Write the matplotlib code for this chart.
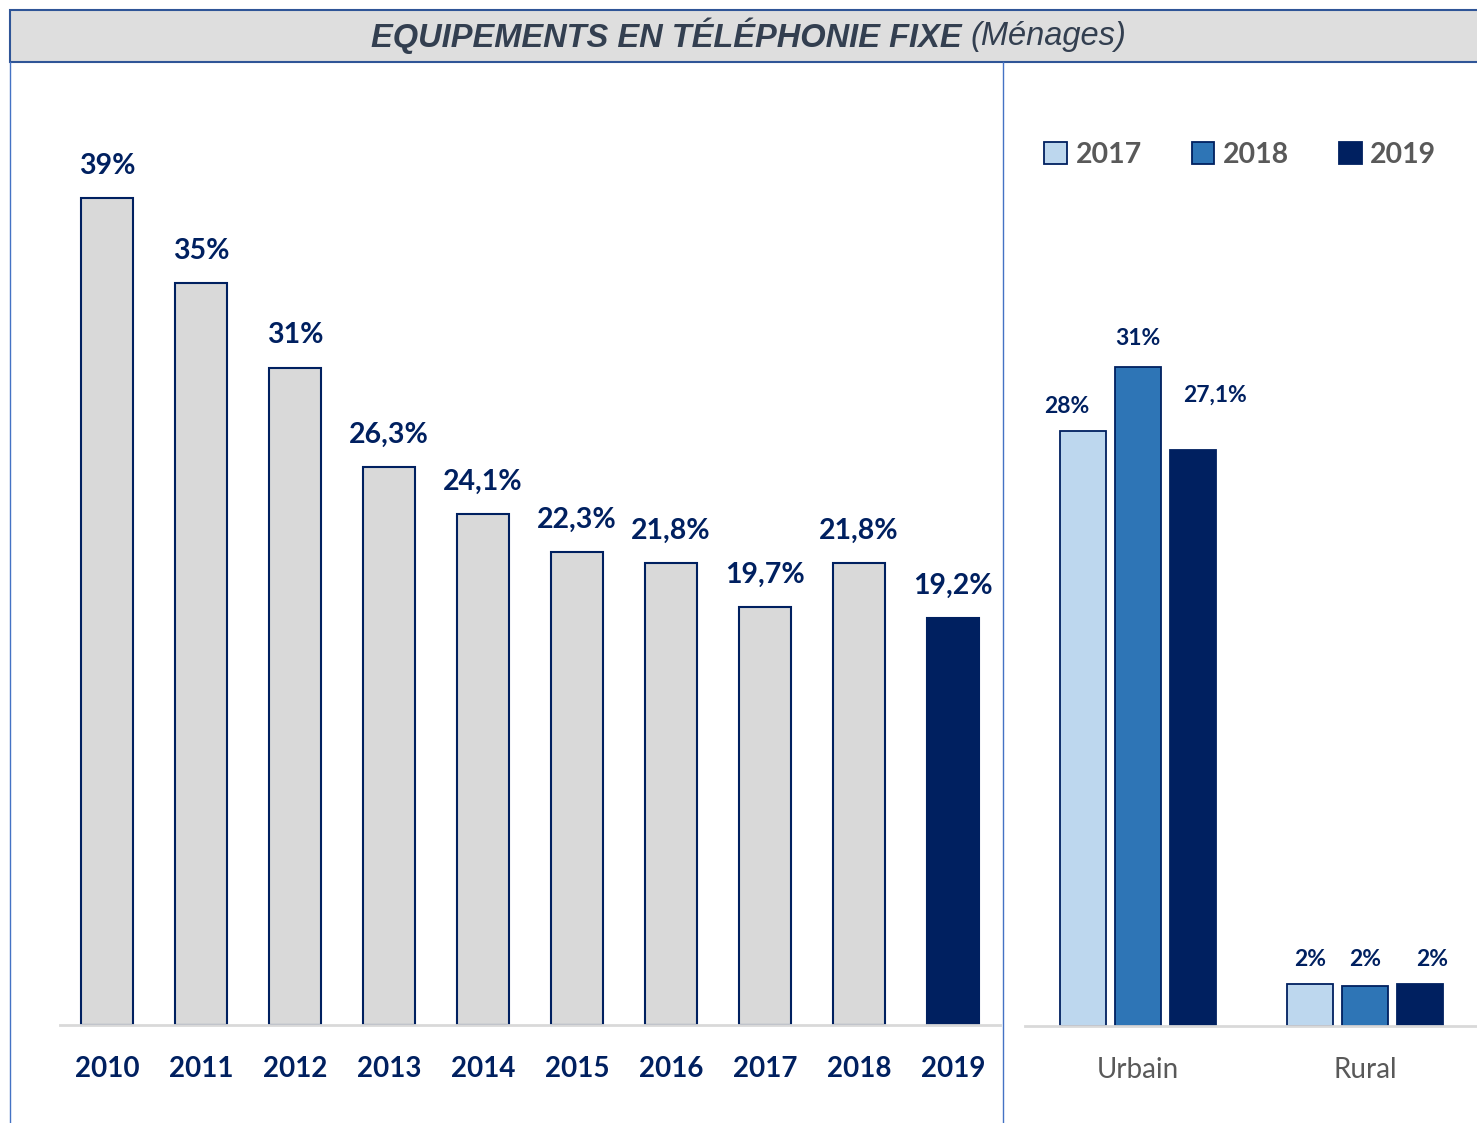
import matplotlib
matplotlib.use('Agg')
import matplotlib.pyplot as plt
from matplotlib.patches import Rectangle
from matplotlib.lines import Line2D

# data
years = ['2010', '2011', '2012', '2013', '2014', '2015', '2016', '2017', '2018', '2019']
taux = [39, 35, 31, 26.3, 24.1, 22.3, 21.8, 19.7, 21.8, 19.2]
taux_labels = ['39%', '35%', '31%', '26,3%', '24,1%', '22,3%', '21,8%', '19,7%', '21,8%', '19,2%']

zones = ['Urbain', 'Rural']
series_years = ['2017', '2018', '2019']
zone_vals = {'2017': [28, 2.0], '2018': [31, 1.9], '2019': [27.1, 2.0]}
zone_labels = {'2017': ['28%', '2%'], '2018': ['31%', '2%'], '2019': ['27,1%', '2%']}

NAVY = '#002060'
GRAY_TXT = '#595959'
FRAME = '#2f5597'
series_colors = {'2017': '#bdd7ee', '2018': '#2e75b6', '2019': '#002060'}

plt.rcParams['font.family'] = ['Lato', 'DejaVu Sans']

W, H = 1477, 1123
fig = plt.figure(figsize=(W / 100, H / 100), dpi=100)


def fx(px):
    return px / W


def fy(py):
    return 1 - py / H


# title bar
fig.add_artist(Rectangle((fx(10), fy(62)), fx(1480) - fx(10), fy(10) - fy(62),
                         transform=fig.transFigure, facecolor='#dedede',
                         edgecolor=FRAME, lw=1.5))
title_font = ['Liberation Sans Narrow', 'Liberation Sans', 'DejaVu Sans']
fig.text(fx(962), fy(36), 'EQUIPEMENTS EN TÉLÉPHONIE FIXE', ha='right', va='center',
         fontsize=23.5, fontweight='bold', style='italic', color='#333f50', family=title_font)
fig.text(fx(970), fy(36), '(Ménages)', ha='left', va='center',
         fontsize=23.5, style='italic', color='#333f50', family=title_font)

# panel separators
fig.add_artist(Line2D([fx(10), fx(10)], [fy(62), fy(1123)], transform=fig.transFigure,
                      color='#4472c4', lw=1))
fig.add_artist(Line2D([fx(1003), fx(1003)], [fy(62), fy(1123)], transform=fig.transFigure,
                      color='#4472c4', lw=1))

# left chart: yearly evolution
base = 1025
top = base - 45 * 21.2
ax = fig.add_axes([fx(60), fy(base), fx(1000) - fx(60), fy(top) - fy(base)])
x = list(range(len(years)))
face = ['#d9d9d9'] * (len(years) - 1) + [NAVY]
ax.bar(x, taux, width=0.553, color=face, edgecolor=NAVY, lw=1.5, zorder=2)
for xi, v, lab in zip(x, taux, taux_labels):
    ax.annotate(lab, (xi, v), xytext=(0, 14), textcoords='offset points',
                ha='center', va='bottom', fontsize=20.5, fontweight='bold', color=NAVY)
ax.set_xlim(-0.5, 9.5)
ax.set_ylim(0, 45)
ax.set_xticks(x)
ax.set_xticklabels(years, fontsize=20, fontweight='bold', color=NAVY)
ax.tick_params(axis='x', length=0, pad=22)
ax.set_yticks([])
for s in ['top', 'right', 'left']:
    ax.spines[s].set_visible(False)
ax.spines['bottom'].set_color('#d9d9d9')
ax.spines['bottom'].set_linewidth(2)
ax.patch.set_alpha(0)

# right chart: urban / rural
base2 = 1026
top2 = base2 - 45 * 21.25
ax2 = fig.add_axes([fx(1025), fy(base2), fx(1477) - fx(1025), fy(top2) - fy(base2)])
bw = 0.203
step = 0.242
# manual label nudges (points), as in the original layout
nudges = {'2017': [(-12, 10), (0, 10)], '2018': [(0, 13), (0, 11)], '2019': [(16, 32), (9, 10)]}
for i, sy in enumerate(series_years):
    xs = [g + (i - 1) * step for g in range(len(zones))]
    ax2.bar(xs, zone_vals[sy], width=bw, color=series_colors[sy], edgecolor=NAVY,
            lw=1.3, zorder=2, label=sy)
    for xi, v, lab, off in zip(xs, zone_vals[sy], zone_labels[sy], nudges[sy]):
        ax2.annotate(lab, (xi, v), xytext=off, textcoords='offset points',
                     ha='center', va='bottom', fontsize=16.5, fontweight='bold', color=NAVY)
ax2.set_xlim(-0.498, 1.493)
ax2.set_ylim(0, 45)
ax2.set_xticks(range(len(zones)))
ax2.set_xticklabels(zones, fontsize=20, color=GRAY_TXT)
ax2.tick_params(axis='x', length=0, pad=22)
ax2.set_yticks([])
for s in ['top', 'right', 'left']:
    ax2.spines[s].set_visible(False)
ax2.spines['bottom'].set_color('#d9d9d9')
ax2.spines['bottom'].set_linewidth(2)
ax2.patch.set_alpha(0)

leg = fig.legend(loc='center left', bbox_to_anchor=(fx(1030), fy(155)), ncol=3,
                 frameon=False, fontsize=20.5, handlelength=0.8, handleheight=0.8,
                 handletextpad=0.3, columnspacing=1.75, borderpad=0)
for t in leg.get_texts():
    t.set_color(GRAY_TXT)
    t.set_fontweight('bold')

fig.savefig('out.png', dpi=100, facecolor='white')
